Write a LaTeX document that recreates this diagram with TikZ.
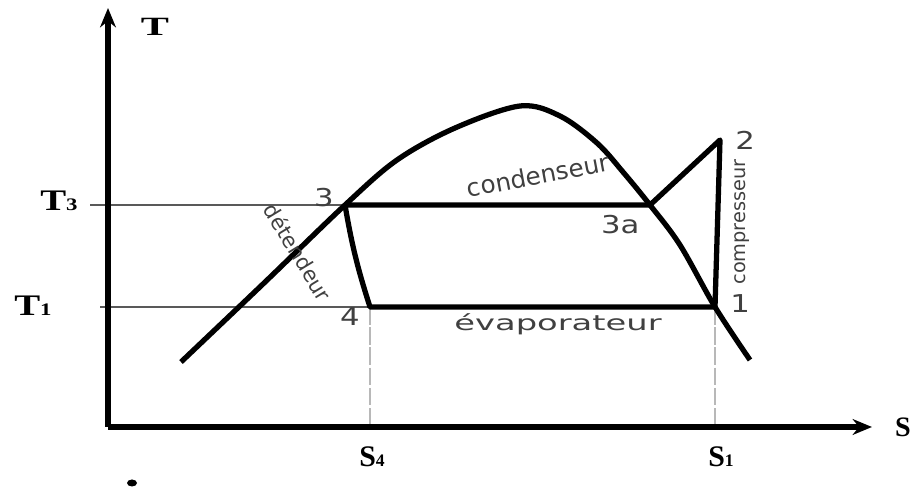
\documentclass[tikz,border=0pt]{standalone}
\usepackage{fontspec}
\setmainfont{Liberation Serif}
\newfontfamily\sketchsans{DejaVu Sans}
\usetikzlibrary{arrows.meta,positioning}
\newcommand{\tsidx}[1]{{\fontsize{10}{10}\selectfont #1}}

\begin{document}
\begin{tikzpicture}[
    x=0.02cm, y=-0.02cm,
    axis/.style={line width=3pt, -{Stealth[length=11pt, width=9pt]}},
    cyclepath/.style={line width=3pt, line join=round},
    level/.style={line width=0.8pt, black!65},
    guide/.style={line width=1.6pt, black!28, dash pattern=on 10pt off 1.5pt},
    axlabel/.style={font=\fontsize{17}{20}\selectfont\bfseries, inner sep=0pt},
    ptlabel/.style={font=\sketchsans\fontsize{14}{16}\selectfont, text=black!75, inner sep=0pt, xscale=1.25},
    devlabel/.style={font=\sketchsans\fontsize{12}{14}\selectfont, text=black!75, inner sep=0pt}
]
\useasboundingbox (0,0) rectangle (917,489);

% Points of the cycle
\coordinate (O)   at (108,427);
\coordinate (p3)  at (345,205);
\coordinate (p3a) at (650,205);
\coordinate (p2)  at (720,140);
\coordinate (p1)  at (715,307);
\coordinate (p4)  at (370,307);
\coordinate (t3s) at (90,205);
\coordinate (t1s) at (100,307);
\coordinate (ytop) at (108,8);
\coordinate (xend) at (872,427);

% Guides and levels
\draw[guide] (p4) -- (p4 |- O);
\draw[guide] (p1) -- (p1 |- O);
\draw[level] (t3s) -- (p3);
\draw[level] (t1s) -- (p4);

% Axes
\draw[axis] (O) -- (ytop);
\draw[axis] (O) -- (xend);

% Dome
\draw[cyclepath] plot[smooth, tension=0.55] coordinates {(181,362) (263,284) (p3) (397,160)
    (455,128) (520,106) (560,116) (597,143) (623,172) (p3a) (680,245) (p1) (750,360)};

% Cycle
\draw[cyclepath] (p3) -- (p3a) -- (p2) -- (p1) -- (p4) to[bend left=4] (p3);

% Axis labels
\node[axlabel, font=\fontsize{15}{18}\selectfont\bfseries, xscale=1.6] (tlab) at (155,27) {T};
\node[axlabel, xscale=1.3] (t3lab) at (59,201) {T\tsidx{3}};
\node[axlabel, xscale=1.3] (t1lab) at (33,306) {T\tsidx{1}};
\node[axlabel, font=\fontsize{16}{18}\selectfont\bfseries] (slab) at (903,427) {S};
\node[axlabel] (s4lab) at (372,457) {S\tsidx{4}};
\node[axlabel] (s1lab) at (721,457) {S\tsidx{1}};

% Point labels
\node[ptlabel, above left=-0.05cm and 0.22cm of p3, anchor=south east] (l3) {3};
\node[ptlabel, below left=0cm and 0.2cm of p4, anchor=north east] (l4) {4};
\node[ptlabel, below left=0.2cm and 0.2cm of p3a, anchor=north east] (l3a) {3a};
\node[ptlabel, right=0.3cm of p2, anchor=west] (l2) {2};
\node[ptlabel, right=0.3cm of p1, anchor=west, yshift=2pt] (l1) {1};

% Components
\node[devlabel, rotate=-58.6] (det) at (298,252) {détendeur};
\node[devlabel, font=\sketchsans\fontsize{14}{16}\selectfont, rotate=10.8] (cond) at (538,175) {condenseur};
\node[devlabel, xscale=1.6] (evap) at (558,324) {évaporateur};
\node[devlabel, font=\sketchsans\fontsize{11}{13}\selectfont, rotate=90] (comp) at (742,222) {compresseur};

% stray mark
\fill (132,483) ellipse (5 and 3.5);

\end{tikzpicture}
\end{document}
